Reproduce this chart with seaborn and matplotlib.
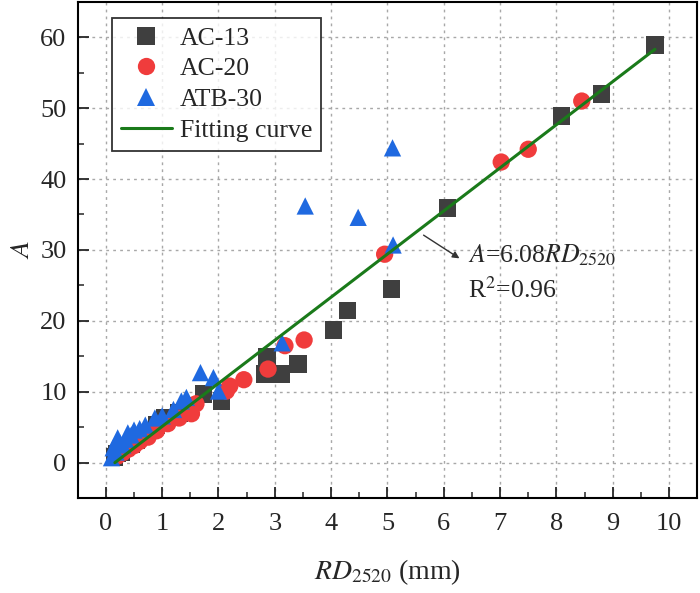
import numpy as np
import pandas as pd
import matplotlib
matplotlib.use("Agg")
import matplotlib.pyplot as plt
from matplotlib.ticker import MultipleLocator
import seaborn as sns

# RD2520 (mm) and A values
ac13_x = [0.15, 0.2, 0.28, 0.35, 0.45, 0.55, 0.7, 0.9, 1.04, 1.3, 1.5, 1.73, 2.05,
          2.82, 2.86, 3.11, 3.41, 4.04, 4.29, 5.07, 6.07, 8.09, 8.8, 9.75]
ac13_y = [0.8, 1.3, 1.5, 2.2, 2.6, 3.2, 4.0, 5.3, 6.3, 7.0, 8.0, 9.7, 8.7,
          12.5, 14.9, 12.5, 13.9, 18.7, 21.5, 24.5, 35.9, 48.9, 52.0, 58.9]

ac20_x = [0.2, 0.3, 0.4, 0.5, 0.6, 0.75, 0.9, 1.1, 1.3, 1.52, 1.6, 2.14, 2.2,
          2.45, 2.88, 3.18, 3.52, 4.95, 7.02, 7.5, 8.45]
ac20_y = [0.9, 1.4, 1.9, 2.4, 3.0, 3.6, 4.5, 5.5, 6.3, 6.9, 8.3, 10.1, 10.8,
          11.7, 13.2, 16.5, 17.3, 29.4, 42.4, 44.2, 51.0]

atb30_x = [0.1, 0.13, 0.18, 0.21, 0.25, 0.3, 0.35, 0.39, 0.45, 0.5, 0.6, 0.7, 0.87,
           1.0, 1.2, 1.34, 1.43, 1.68, 1.91, 2.0, 3.13, 3.54, 4.48, 5.09, 5.1]
atb30_y = [0.7, 2.1, 1.5, 3.5, 2.8, 2.5, 3.3, 4.2, 3.9, 4.6, 4.8, 5.3, 6.3,
           6.6, 7.5, 8.7, 9.2, 12.7, 12.0, 10.1, 16.9, 36.2, 34.6, 44.4, 30.7]

# fitted line A = 6.08 RD2520, end points as drawn
fit_x = [0.16, 9.75]
fit_y = [0.0, 58.3]

groups = ["AC-13", "AC-20", "ATB-30"]
df = pd.concat([
    pd.DataFrame({"RD": ac13_x, "A": ac13_y, "group": groups[0]}),
    pd.DataFrame({"RD": ac20_x, "A": ac20_y, "group": groups[1]}),
    pd.DataFrame({"RD": atb30_x, "A": atb30_y, "group": groups[2]}),
])

sns.set_theme(style="ticks")
plt.rcParams["font.family"] = ["Liberation Serif", "DejaVu Serif"]
plt.rcParams["mathtext.fontset"] = "stix"

fig = plt.figure(figsize=(7.0, 5.93), dpi=100)
ax = fig.add_axes([0.111, 0.160, 0.885, 0.837])

palette = {"AC-13": "#3f3f3f", "AC-20": "#f03c3c", "ATB-30": "#1f69e0"}
markers = {"AC-13": "s", "AC-20": "o", "ATB-30": "^"}

sns.scatterplot(data=df, x="RD", y="A", hue="group", style="group",
                palette=palette, markers=markers, s=155, edgecolor="none",
                linewidth=0, ax=ax, zorder=3)
ax.plot(fit_x, fit_y, color="#1a7a1a", lw=2.2, label="Fitting curve", zorder=4)

ax.set_xlim(-0.5, 10.5)
ax.set_ylim(-5, 65)
ax.xaxis.set_major_locator(MultipleLocator(1))
ax.xaxis.set_minor_locator(MultipleLocator(0.5))
ax.yaxis.set_major_locator(MultipleLocator(10))
ax.yaxis.set_minor_locator(MultipleLocator(5))
ax.tick_params(which="major", direction="in", length=8, width=1.3, labelsize=19)
ax.tick_params(axis="x", which="major", pad=11)
ax.tick_params(axis="y", which="major", pad=8)
ax.tick_params(which="minor", direction="in", length=4, width=1.1)
ax.grid(True, which="major", linestyle=(0, (2, 3)), color="#a8a8a8", lw=1)
ax.set_axisbelow(True)
for sp in ax.spines.values():
    sp.set_linewidth(1.5)
    sp.set_color("black")

ax.set_xlabel(r"$RD_{2520}$ (mm)", fontsize=20, labelpad=16)
ax.set_ylabel(r"$A$", fontsize=20, labelpad=4)

handles, labels = ax.get_legend_handles_labels()
leg = ax.legend(handles, labels, loc="upper left", bbox_to_anchor=(0.055, 0.968),
                borderaxespad=0, fontsize=18.5, frameon=True, fancybox=False,
                handlelength=2.0, labelspacing=0.3, borderpad=0.35, handletextpad=0.3,
                markerscale=1.0)
leg.get_frame().set_edgecolor("black")
leg.get_frame().set_linewidth(1.3)

ax.annotate("", xy=(6.32, 28.6), xytext=(5.6, 32.3),
            arrowprops=dict(arrowstyle="-|>", color="#333333", lw=1, mutation_scale=10))
ax.text(6.43, 29.2, r"$A$=6.08$RD_{2520}$", fontsize=18.5, va="center", ha="left")
ax.text(6.43, 24.4, r"R$^2$=0.96", fontsize=18.5, va="center", ha="left")

fig.savefig("out.png", dpi=100)
